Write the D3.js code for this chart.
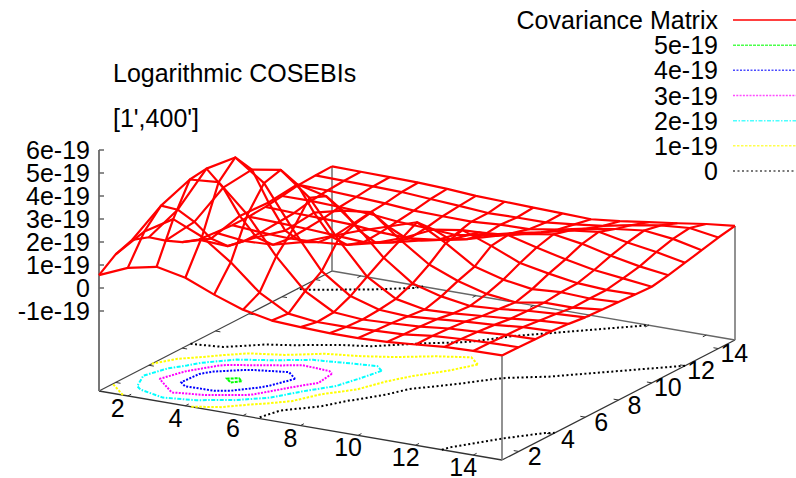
<!DOCTYPE html>
<html><head><meta charset="utf-8">
<style>html,body{margin:0;padding:0;background:#fff}svg{display:block}text{font-family:"Liberation Sans",Arial,sans-serif;fill:#000}</style>
<script src="https://cdn.jsdelivr.net/npm/d3@7"></script></head><body><div id="c"></div>
<script>
const xTicks=[2,4,6,8,10,12,14];
const yTicks=[2,4,6,8,10,12,14];
const zTicks=[-1,0,1,2,3,4,5,6];
const zTickLabels=["-1e-19","0","1e-19","2e-19","3e-19","4e-19","5e-19","6e-19"];
const gridIndex=[1,2,3,4,5,6,7,8,9,10,11,12,13,14,15];
const contourLevels=[5,4,3,2,1,0];
const legendLabels=["Covariance Matrix","5e-19","4e-19","3e-19","2e-19","1e-19","0"];
const legendColors=["#ff0000","#00ff00","#0000ff","#ff00ff","#00ffff","#ffff00","#000000"];
const titleLines=["Logarithmic COSEBIs","[1',400']"];
// upper triangle of the symmetric matrix, units of 1e-19: row k lists (k,k)...(k,15)
const covRows=[
[.56,1.09,1.35,1.09,.57,.13,-.13,-.2,-.25,-.25,-.2,-.1,.01,.05,.07],
[2.3,3.05,2.5,1.6,.5,-.2,-.35,-.35,-.3,-.25,-.1,-.02,.03,.05],
[4.4,4.5,3.3,1.7,.4,-.3,-.4,-.35,-.28,-.15,-.08,0,.03],
[5.2,4.3,2.5,.9,.03,-.35,-.42,-.33,-.22,-.15,-.03,.01],
[4.5,3.5,1.9,.5,-.25,-.5,-.45,-.35,-.25,-.12,-.05],
[3.2,2.2,.95,.05,-.3,-.5,-.42,-.28,-.2,-.14],
[2.35,1.35,.5,0,-.35,-.5,-.3,-.3,-.18],
[1.75,1.06,.25,-.1,-.3,-.22,-.28,-.22],
[1.25,.78,.25,0,-.2,-.28,-.26],
[.88,.55,.25,0,-.15,-.3],
[.75,.55,.25,0,-.17],
[.7,.45,.25,0],
[.6,.45,.17],
[.55,.35],
[.48]];

const W=796,H=478,n=gridIndex.length,FS=25;
const z=(x,y)=>{const a=Math.min(x,y),b=Math.max(x,y);return covRows[a-1][b-a];};
const svg=d3.select("#c").append("svg").attr("width",W).attr("height",H);
svg.append("rect").attr("width",W).attr("height",H).attr("fill","#fff");
// oblique projection built from linear scales
const xToPx=d3.scaleLinear().domain([1,15]).range([0,403]);
const xToPy=d3.scaleLinear().domain([1,15]).range([0,69]);
const yToPx=d3.scaleLinear().domain([1,15]).range([0,233]);
const yToPy=d3.scaleLinear().domain([1,15]).range([0,-120]);
const zToPy=d3.scaleLinear().domain([-1,6]).range([-80,-241]);
const ox=99,oy=391;
const px=(x,y)=>ox+xToPx(x)+yToPx(y);
const pyBase=(x,y)=>oy+xToPy(x)+yToPy(y);
const py=(x,y,v)=>pyBase(x,y)+zToPy(v);
const [x0,x1]=xToPx.domain(),[y0,y1]=yToPx.domain();
const axisCol="#777";
const seg=(a,b,c,d,w=1.5,col=axisCol)=>svg.append("line").attr("x1",a).attr("y1",b).attr("x2",c).attr("y2",d).attr("stroke",col).attr("stroke-width",w);
// base
seg(px(x0,y0),pyBase(x0,y0),px(x1,y0),pyBase(x1,y0),1.3,"#333");
seg(px(x1,y0),pyBase(x1,y0),px(x1,y1),pyBase(x1,y1),1.3,"#333");
seg(px(x0,y0),pyBase(x0,y0),px(x0,y1),pyBase(x0,y1),1.3,"#444");
seg(px(x0,y1),pyBase(x0,y1),px(x1,y1),pyBase(x1,y1),1.3,"#666");
// verticals
seg(px(x0,y0),pyBase(x0,y0),px(x0,y0),py(x0,y0,6),2,"#777");
seg(px(x1,y0),pyBase(x1,y0),px(x1,y0),py(x1,y0,z(x1,y0)),1.6);
seg(px(x1,y1),pyBase(x1,y1),px(x1,y1),py(x1,y1,z(x1,y1)),1.6);
seg(px(x0,y1),pyBase(x0,y1),px(x0,y1),py(x0,y1,z(x0,y1)),1.6);
// ticks
const tl=0.17;
xTicks.forEach(t=>{seg(px(t,y0),pyBase(t,y0),px(t,y0+tl*1.2),pyBase(t,y0+tl*1.2),1,"#333");seg(px(t,y1),pyBase(t,y1),px(t,y1-tl*1.2),pyBase(t,y1-tl*1.2),1,"#333");
 svg.append("text").attr("x",px(t,y0)-10).attr("y",pyBase(t,y0)+12).attr("text-anchor","middle").attr("dy",".36em").attr("font-size",FS).text(t);});
yTicks.forEach(t=>{seg(px(x1,t),pyBase(x1,t),px(x1-tl,t),pyBase(x1-tl,t),1,"#333");seg(px(x0,t),pyBase(x0,t),px(x0+tl,t),pyBase(x0+tl,t),1,"#333");
 svg.append("text").attr("x",px(x1,t)+16).attr("y",pyBase(x1,t)+4.5).attr("text-anchor","middle").attr("dy",".36em").attr("font-size",FS).text(t);});
zTicks.forEach((t,i)=>{const yy=py(x0,y0,t),xx=px(x0,y0);seg(xx,yy,xx+5,yy,1.5,"#666");
 svg.append("text").attr("x",xx-9).attr("y",yy).attr("text-anchor","end").attr("dy",".36em").attr("font-size",FS).text(zTickLabels[i]);});
// contours
const dash={5:"3 1",4:"2 1.5",3:"2 1.3",2:"4 1.5 1.5 1.5",1:"2.5 1.5",0:"2 2.5"};
const levelColor=l=>legendColors[legendLabels.indexOf(l===0?"0":l+"e-19")];
const flat=[];gridIndex.forEach(y=>gridIndex.forEach(x=>flat.push(z(x,y))));
const contourGen=d3.contours().size([n,n]).thresholds(contourLevels);
const contourLine=d3.line().x(d=>d[0]).y(d=>d[1]);
contourGen(flat).forEach(c=>{
  const lv=c.value;
  const g=svg.append("g").attr("fill","none").attr("stroke",levelColor(lv)).attr("stroke-width",2).attr("stroke-dasharray",dash[lv]);
  c.coordinates.forEach(poly=>poly.forEach(ring=>{
    let cur=[];const parts=[];
    ring.forEach(p=>{
      const inside=p[0]>=0.5&&p[0]<=n-0.5&&p[1]>=0.5&&p[1]<=n-0.5;
      if(inside){const gx=p[0]+0.5,gy=p[1]+0.5;cur.push([px(gx,gy),pyBase(gx,gy)]);}
      else{if(cur.length>1)parts.push(cur);cur=[];}
    });
    if(cur.length>1)parts.push(cur);
    parts.forEach(pt=>g.append("path").attr("d",contourLine(pt)));
  }));
});
// surface
const sLine=d3.line().x(d=>d[0]).y(d=>d[1]);
const sg=svg.append("g").attr("fill","none").attr("stroke","#ff0000").attr("stroke-width",2.2).attr("stroke-linejoin","round");
gridIndex.forEach(a=>{
  sg.append("path").attr("d",sLine(gridIndex.map(b=>[px(a,b),py(a,b,z(a,b))])));
  sg.append("path").attr("d",sLine(gridIndex.map(b=>[px(b,a),py(b,a,z(b,a))])));
});
// titles
titleLines.forEach((t,i)=>svg.append("text").attr("x",113).attr("y",73+i*45).attr("dy",".36em").attr("font-size",FS).text(t));
// legend
const legendY=d3.scalePoint().domain(legendLabels).range([20,171]);
legendLabels.forEach((l,i)=>{
  const yy=legendY(l);
  svg.append("text").attr("x",718).attr("y",yy).attr("dy",".36em").attr("text-anchor","end").attr("font-size",FS).text(l);
  const lv=i===0?null:contourLevels[i-1];
  svg.append("line").attr("x1",733).attr("x2",796).attr("y1",yy).attr("y2",yy).attr("stroke",legendColors[i]).attr("stroke-width",1.5).attr("stroke-opacity",i===0?1:.7).attr("stroke-dasharray",lv===null?null:dash[lv]);
});
</script></body></html>
